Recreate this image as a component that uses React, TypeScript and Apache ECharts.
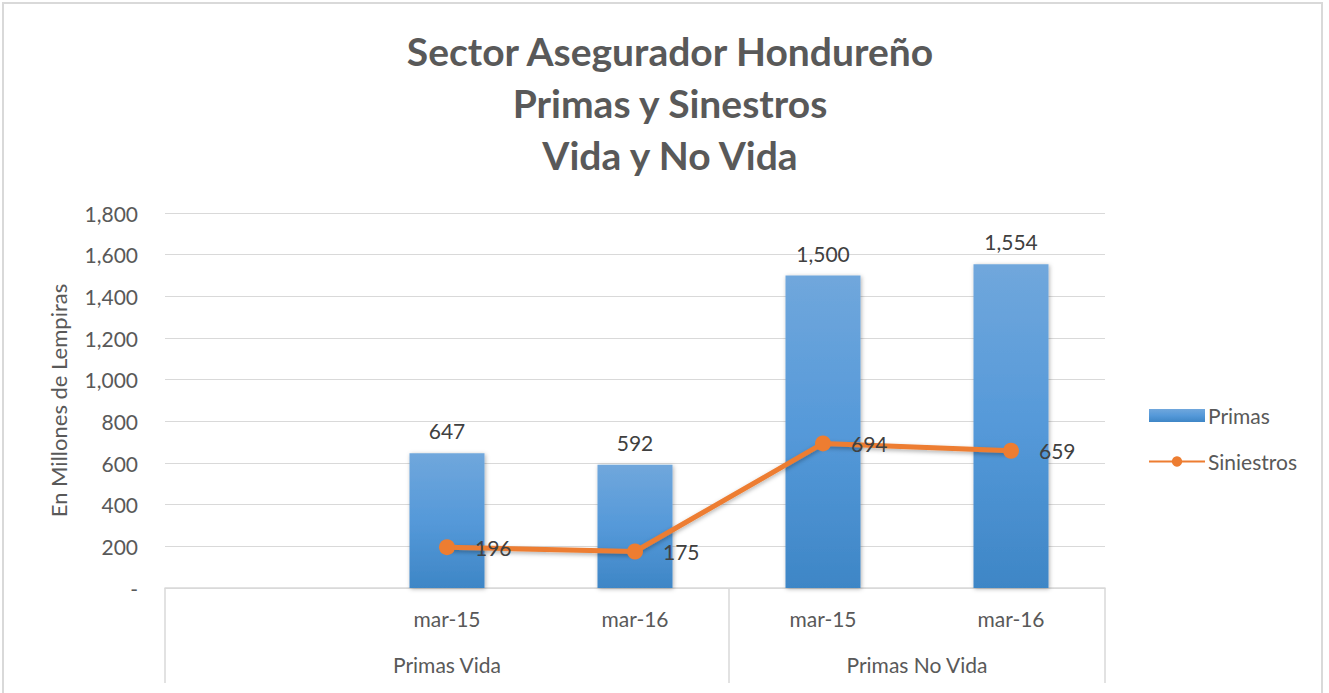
import React, { useEffect, useRef } from "react";
import * as echarts from "echarts";

const categories = ["", "mar-15", "mar-16", "mar-15", "mar-16"];
const groups = ["Primas Vida", "Primas No Vida"];
const groupCenters = [1.5, 4];
const groupBounds = [0, 3, 5];
const primas = [null, 647, 592, 1500, 1554];
const siniestros = [null, 196, 175, 694, 659];
const titleLines = ["Sector Asegurador Hondureño", "Primas y Sinestros", "Vida y No Vida"];

const FONT = "Lato, 'Open Sans', sans-serif";
const fmt = (v: number) => (v === 0 ? "-" : v.toLocaleString("en-US"));

export default function App() {
  const ref = useRef<HTMLDivElement>(null);
  useEffect(() => {
    document.body.style.margin = "0";
    const chart = echarts.init(ref.current!, undefined, { renderer: "svg" });
    chart.setOption({
      animation: false,
      backgroundColor: "#ffffff",
      textStyle: { fontFamily: FONT },
      title: {
        text: titleLines.join("\n"),
        top: 20,
        left: 665,
        textAlign: "center",
        textStyle: { fontFamily: FONT, fontWeight: "bold", fontSize: 39, lineHeight: 52, color: "#595959" },
      },
      graphic: [
        {
          type: "rect",
          shape: { x: 3, y: 3, width: 1319, height: 720 },
          style: { fill: "none", stroke: "#d9d9d9", lineWidth: 2 },
          silent: true,
        },
      ],
      legend: {
        orient: "vertical",
        left: 1143,
        top: 400,
        itemGap: 25,
        itemWidth: 56,
        itemHeight: 13,
        textStyle: { fontFamily: FONT, fontSize: 21, color: "#595959", padding: [0, 0, 0, -2] },
        data: [
          { name: "Primas", icon: "rect" },
          { name: "Siniestros" },
        ],
      },
      grid: { left: 165, right: 224, top: 213, bottom: 105, containLabel: false },
      xAxis: [
        {
          type: "category",
          data: categories,
          position: "bottom",
          axisLine: { show: true, lineStyle: { color: "#d9d9d9", width: 1.5 } },
          axisTick: { show: false },
          axisLabel: { fontFamily: FONT, fontSize: 21, color: "#595959", margin: 20, interval: 0 },
        },
        {
          type: "value",
          min: 0,
          max: 5,
          position: "bottom",
          axisLine: { show: false },
          splitLine: { show: false },
          axisTick: {
            show: true,
            customValues: groupBounds,
            length: 95,
            lineStyle: { color: "#d9d9d9", width: 1.5 },
          },
          axisLabel: {
            customValues: groupCenters,
            formatter: (v: number) => groups[groupCenters.indexOf(v)] ?? "",
            fontFamily: FONT,
            fontSize: 21,
            color: "#595959",
            margin: 66,
          },
        },
      ],
      yAxis: {
        type: "value",
        min: 0,
        max: 1800,
        interval: 200,
        name: "En Millones de Lempiras",
        nameLocation: "middle",
        nameGap: 96,
        nameRotate: 90,
        nameTextStyle: { fontFamily: FONT, fontSize: 22, color: "#595959" },
        axisLine: { show: false },
        axisTick: { show: false },
        splitLine: { lineStyle: { color: "#d9d9d9", width: 1 } },
        axisLabel: { formatter: fmt, fontFamily: FONT, fontSize: 21, color: "#595959", margin: 27 },
      },
      series: [
        {
          name: "Primas",
          type: "bar",
          data: primas,
          barWidth: 75,
          itemStyle: {
            color: new echarts.graphic.LinearGradient(0, 0, 0, 1, [
              { offset: 0, color: "#70a7dc" },
              { offset: 0.5, color: "#5599d9" },
              { offset: 1, color: "#3e86c6" },
            ]),
            shadowColor: "rgba(0,0,0,0.3)",
            shadowBlur: 4,
            shadowOffsetX: 1,
            shadowOffsetY: 1,
          },
          label: {
            show: true,
            position: "top",
            distance: 12,
            formatter: (p: any) => fmt(p.value),
            fontFamily: FONT,
            fontSize: 21,
            color: "#404040",
          },
        },
        {
          name: "Siniestros",
          type: "line",
          data: siniestros,
          symbol: "circle",
          symbolSize: 16,
          connectNulls: false,
          lineStyle: { color: "#ed7d31", width: 5, shadowColor: "rgba(0,0,0,0.3)", shadowBlur: 4, shadowOffsetY: 2 },
          itemStyle: { color: "#ed7d31" },
          label: {
            show: true,
            position: "right",
            distance: 20,
            formatter: (p: any) => fmt(p.value),
            fontFamily: FONT,
            fontSize: 21,
            color: "#404040",
          },
        },
      ],
    });
    return () => chart.dispose();
  }, []);
  return <div ref={ref} style={{ width: 1329, height: 693 }} />;
}
